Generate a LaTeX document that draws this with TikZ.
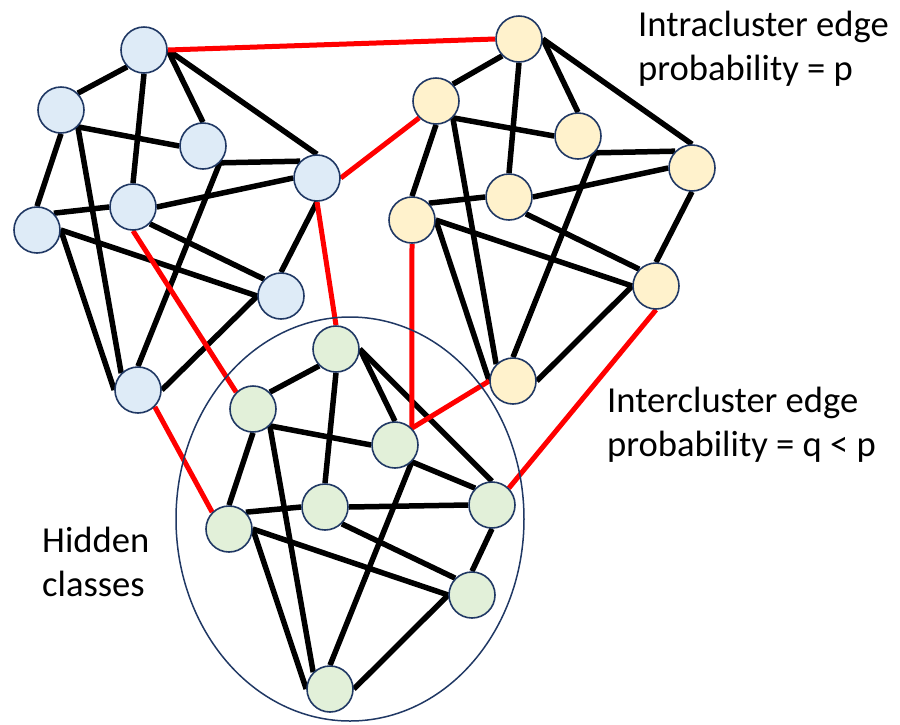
\documentclass[tikz,border=0pt]{standalone}
\usepackage{fontspec}
\setmainfont{Carlito}
\usetikzlibrary{backgrounds,shapes.geometric}
\definecolor{nodeborder}{HTML}{203864}
\definecolor{bluefill}{HTML}{DEEBF7}
\definecolor{yellowfill}{HTML}{FFF2CC}
\definecolor{greenfill}{HTML}{E2F0D9}
\definecolor{redline}{HTML}{FF0000}
\begin{document}
\begin{tikzpicture}[x=1pt,y=-1pt,
  vtx/.style={circle, draw=nodeborder, line width=1.6pt, minimum size=46pt, inner sep=0pt},
  bv/.style={vtx, fill=bluefill},
  yv/.style={vtx, fill=yellowfill},
  gv/.style={vtx, fill=greenfill},
  intra/.style={line width=5.5pt, black},
  inter/.style={line width=5pt, redline},
  hiddenclass/.style={ellipse, draw=nodeborder, line width=1.5pt, minimum width=348pt, minimum height=404pt, inner sep=0pt},
  lbl/.style={anchor=base west, inner sep=0pt, font=\fontsize{36.6}{44}\selectfont}]
\useasboundingbox (0,0) rectangle (900,724);

\node[hiddenclass] (hc) at (350,519) {};

% blue cluster
\node[bv] (B1) at (144,50) {};
\node[bv] (B2) at (61,110) {};
\node[bv] (B3) at (203,146) {};
\node[bv] (B4) at (317,178) {};
\node[bv] (B5) at (133,207) {};
\node[bv] (B6) at (37,230) {};
\node[bv] (B7) at (281,296) {};
\node[bv] (B8) at (138,390) {};
% yellow cluster
\node[yv] (Y1) at (519,39) {};
\node[yv] (Y2) at (436,101) {};
\node[yv] (Y3) at (578,136) {};
\node[yv] (Y4) at (692,168) {};
\node[yv] (Y5) at (509,197) {};
\node[yv] (Y6) at (412,220) {};
\node[yv] (Y7) at (656,286) {};
\node[yv] (Y8) at (513,381) {};
% green cluster
\node[gv] (G1) at (336,349) {};
\node[gv] (G2) at (253,409) {};
\node[gv] (G3) at (395,445) {};
\node[gv] (G4) at (492,505) {};
\node[gv] (G5) at (325,507) {};
\node[gv] (G6) at (229,529) {};
\node[gv] (G7) at (472,595) {};
\node[gv] (G8) at (330,689) {};

\begin{pgfonlayer}{background}
\foreach \c in {B,Y,G} {
  \draw[intra] (\c1.south west) -- (\c2.north east);
  \draw[intra] (\c1.south) -- (\c5.north);
  \draw[intra] (\c1.east) -- (\c3.north);
  \draw[intra] (\c1.east) -- (\c4.north);
  \draw[intra] (\c2.south east) -- (\c3.west);
  \draw[intra] (\c2.south) -- (\c6.north);
  \draw[intra] (\c2.south east) -- (\c8.north west);
  \draw[intra] (\c3.south east) -- (\c4.north west);
  \draw[intra] (\c3.south east) -- (\c8.north);
  \draw[intra] (\c4.west) -- (\c5.east);
  \draw[intra] (\c4.south) -- (\c7.north);
  \draw[intra] (\c5.west) -- (\c6.north east);
  \draw[intra] (\c5.south east) -- (\c7.north west);
  \draw[intra] (\c6.east) -- (\c7.west);
  \draw[intra] (\c6.east) -- (\c8.west);
  \draw[intra] (\c7.west) -- (\c8.east);
}
\draw[inter] (B1.east) -- (Y1.west);
\draw[inter] (B4.east) -- (Y2.south west);
\draw[inter] (B4.south) -- (G1.north);
\draw[inter] (B5.south) -- (G2.north west);
\draw[inter] (B8.south east) -- (G6.north west);
\draw[inter] (Y6.south) -- (G3.north east);
\draw[inter] (Y8.west) -- (G3.north east);
\draw[inter] (Y7.south) -- (G4.north east);
\end{pgfonlayer}

\node[lbl] (t1) at (638,36) {Intracluster edge};
\node[lbl] (t2) at (638,80) {probability = p};
\node[lbl] (t3) at (607,412) {Intercluster edge};
\node[lbl] (t4) at (607,456) {probability = q < p};
\node[lbl] (t5) at (42,552) {Hidden};
\node[lbl] (t6) at (42,596) {classes};
\end{tikzpicture}
\end{document}
